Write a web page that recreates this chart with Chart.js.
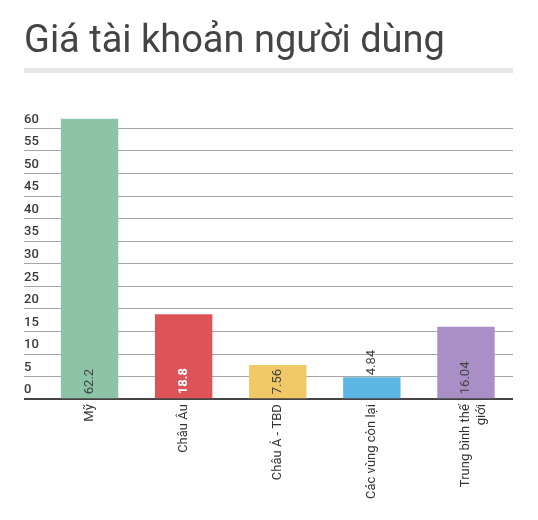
<!DOCTYPE html>
<html>
<head>
<meta charset="utf-8">
<script src="https://cdn.jsdelivr.net/npm/chart.js@4"></script>
<style>
  html, body { margin: 0; padding: 0; background: #fff; }
  #wrap { position: relative; width: 538px; height: 520px; overflow: hidden; }
  #title {
    position: absolute; left: 24px; top: 20px; margin: 0;
    font: 400 38px/38px Roboto, sans-serif; color: #444; white-space: nowrap;
  }
  #rule { position: absolute; left: 24px; top: 68px; width: 489px; height: 5px; background: #e6e6e6; }
  #chart { position: absolute; left: 0; top: 0; }
</style>
</head>
<body>
<div id="wrap">
  <canvas id="chart" width="538" height="520"></canvas>
  <h1 id="title">Giá tài khoản người dùng</h1>
  <div id="rule"></div>
</div>
<script>
const regions = ["Mỹ", "Châu Âu", "Châu Á - TBD", ["Các vùng còn lại"], ["Trung bình thế", "giới"]];
const prices = [62.2, 18.8, 7.56, 4.84, 16.04];
const priceLabels = ["62.2", "18.8", "7.56", "4.84", "16.04"];
const yTicks = [0, 5, 10, 15, 20, 25, 30, 35, 40, 45, 50, 55, 60];
const barColors = ["#8dc3a7", "#dd5357", "#f0c966", "#5db5e3", "#a98fc6"];
const labelColors = ["#444", "#fff", "#444", "#444", "#444"];

// value labels drawn rotated inside the bar base, or above short bars
const valueLabels = {
    id: 'valueLabels',
    afterDatasetsDraw(chart) {
        const ctx = chart.ctx;
        const meta = chart.getDatasetMeta(0);
        meta.data.forEach((bar, i) => {
            const bold = labelColors[i] === "#fff";
            ctx.save();
            ctx.font = (bold ? "bold " : "") + "13px Roboto, sans-serif";
            const w = ctx.measureText(priceLabels[i]).width;
            const h = bar.base - bar.y;
            let y = bar.base - 4;
            if (h < w + 5) y = bar.y - 2;
            ctx.translate(bar.x, y);
            ctx.rotate(-Math.PI / 2);
            ctx.fillStyle = labelColors[i];
            ctx.textAlign = "left";
            ctx.textBaseline = "middle";
            ctx.fillText(priceLabels[i], 0, 0);
            ctx.restore();
        });
    }
};

new Chart(document.getElementById("chart"), {
    type: 'bar',
    data: {
        labels: regions,
        datasets: [{
            data: prices,
            backgroundColor: barColors,
            borderWidth: 0,
            barPercentage: 0.61,
            categoryPercentage: 1
        }]
    },
    options: {
        responsive: false,
        animation: false,
        layout: { padding: { left: 24, right: 25, top: 118.4, bottom: 0 } },
        plugins: {
            legend: { display: false },
            tooltip: { enabled: false }
        },
        scales: {
            x: {
                grid: { display: false, drawTicks: false },
                border: { display: false },
                ticks: {
                    minRotation: 90,
                    maxRotation: 90,
                    padding: 5,
                    color: '#333',
                    font: { family: 'Roboto', size: 13 }
                },
                afterFit(scale) { scale.height = 120.8; }
            },
            y: {
                min: 0,
                max: Math.max(...prices),
                border: { display: false },
                grid: {
                    color: c => c.tick && c.tick.value === 0 ? '#444' : '#a6a6a6',
                    lineWidth: c => c.tick && c.tick.value === 0 ? 2 : 1,
                    drawTicks: true,
                    tickLength: 18.5
                },
                ticks: {
                    crossAlign: 'far',
                    labelOffset: -9,
                    padding: 0,
                    color: '#3a3a3a',
                    font: { family: 'Roboto', size: 13, weight: '500' }
                },
                afterBuildTicks(scale) {
                    scale.ticks = yTicks.map(v => ({ value: v }));
                },
                afterFit(scale) { scale.width = 18.5; }
            }
        }
    },
    plugins: [valueLabels]
});
</script>
</body>
</html>
